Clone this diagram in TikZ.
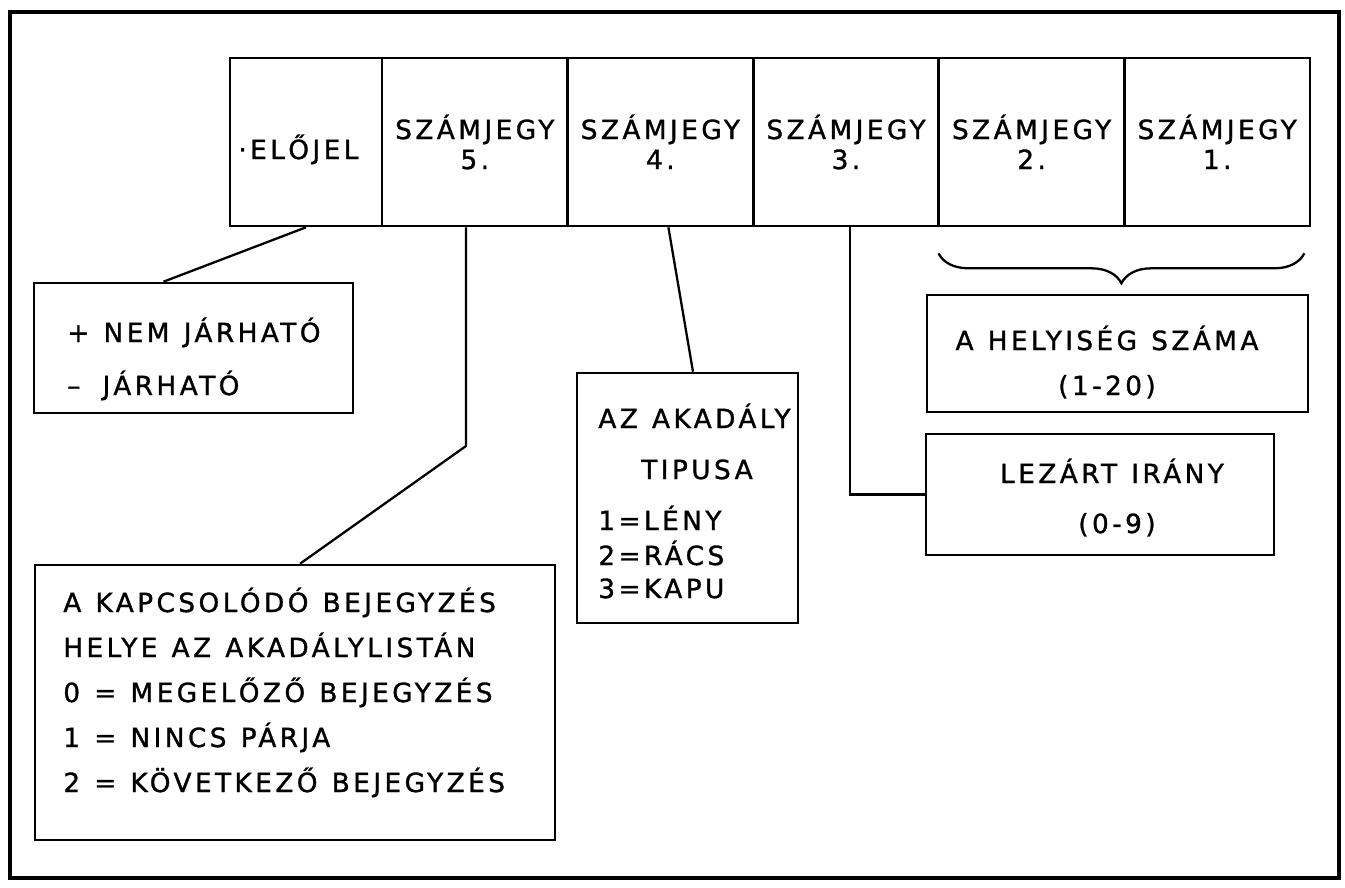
\documentclass[tikz,border=0pt]{standalone}
\usepackage{fontspec}
\setmainfont{DejaVu Sans}[LetterSpace=13,WordSpace=1.2,FakeBold=1.2]
\usetikzlibrary{calc,decorations.pathreplacing}

\begin{document}
\begin{tikzpicture}[x=0.02cm,y=-0.02cm,
		cell/.style={draw,line width=1.5pt,inner sep=0pt,minimum width=3.712cm,minimum height=3.36cm},
		box/.style={draw,line width=1.5pt,inner sep=0pt},
		txt/.style={inner sep=0pt,anchor=base west,font=\fontsize{15}{18}\selectfont},
		ctxt/.style={txt,anchor=base},
		conn/.style={line width=1.3pt}]
		\useasboundingbox (0,0) rectangle (1345,887);
		\draw[line width=2.6pt] (10,12) rectangle (1339,878);
		
		\node[box,minimum width=3.04cm,minimum height=3.36cm] (elojel) at (306,142) {};
		\node[cell] (d5) at (474.8,142) {};
		\node[cell] (d4) at (660.4,142) {};
		\node[cell] (d3) at (846,142) {};
		\node[cell] (d2) at (1031.6,142) {};
		\node[cell] (d1) at (1217.2,142) {};
		
		\node[txt] (elojelt) at (238,159) {·ELŐJEL};
		\node[ctxt] (d5a) at (474.8,139) {SZÁMJEGY};
		\node[ctxt] (d5b) at (474.8,169) {5.};
		\node[ctxt] (d4a) at (660.4,139) {SZÁMJEGY};
		\node[ctxt] (d4b) at (660.4,169) {4.};
		\node[ctxt] (d3a) at (846,139) {SZÁMJEGY};
		\node[ctxt] (d3b) at (846,169) {3.};
		\node[ctxt] (d2a) at (1031.6,139) {SZÁMJEGY};
		\node[ctxt] (d2b) at (1031.6,169) {2.};
		\node[ctxt] (d1a) at (1217.2,139) {SZÁMJEGY};
		\node[ctxt] (d1b) at (1217.2,169) {1.};
		
		\node[box,minimum width=6.38cm,minimum height=2.6cm] (nem) at (193.5,348) {};
		\node[txt] (nem1) at (67,342) {+ NEM JÁRHATÓ};
		\node[txt] (nem2) at (67,395) {–\hspace{0.3em} JÁRHATÓ};
		
		\node[box,minimum width=4.42cm,minimum height=5cm] (akad) at (687.5,498) {};
		\node[txt] (akad1) at (598,428) {AZ AKADÁLY};
		\node[ctxt] (akad2) at (697,479) {TIPUSA};
		\node[txt] (akad3) at (598,530) {1=LÉNY};
		\node[txt] (akad4) at (598,565) {2=RÁCS};
		\node[txt] (akad5) at (598,598) {3=KAPU};
		
		\node[box,minimum width=7.62cm,minimum height=2.34cm] (hely) at (1117.5,353.5) {};
		\node[ctxt] (hely1) at (1107,350) {A HELYISÉG SZÁMA};
		\node[ctxt] (hely2) at (1107,395) {(1-20)};
		
		\node[box,minimum width=6.96cm,minimum height=2.42cm] (lezart) at (1100,494.5) {};
		\node[ctxt] (lezart1) at (1112,483) {LEZÁRT IRÁNY};
		\node[ctxt] (lezart2) at (1117,533) {(0-9)};
		
		\node[box,minimum width=10.4cm,minimum height=5.5cm] (kapcs) at (295,702.5) {};
		\node[txt] (kapcs1) at (63,612) {A KAPCSOLÓDÓ BEJEGYZÉS};
		\node[txt] (kapcs2) at (63,657) {HELYE AZ AKADÁLYLISTÁN};
		\node[txt] (kapcs3) at (63,702) {0 = MEGELŐZŐ BEJEGYZÉS};
		\node[txt] (kapcs4) at (63,747) {1 = NINCS PÁRJA};
		\node[txt] (kapcs5) at (63,792) {2 = KÖVETKEZŐ BEJEGYZÉS};
		
		\coordinate (bend5) at (466,446);
		\draw[conn] (elojel.south) -- ($(nem.north)+(-30,0)$);
		\draw[conn] (bend5 |- d5.south) -- (bend5) -- ($(kapcs.north)+(5,0)$);
		\draw[conn] ($(d4.south)+(8,0)$) -- ($(akad.north)+(5.5,0)$);
		\draw[conn] ($(d3.south)+(4,0)$) |- (lezart.west);
		\draw[conn,decorate,decoration={brace,mirror,amplitude=0.6cm}] ($(d2.south west)+(1,26)$) -- ($(d1.south east)+(-7,26)$);
	\end{tikzpicture}
\end{document}
